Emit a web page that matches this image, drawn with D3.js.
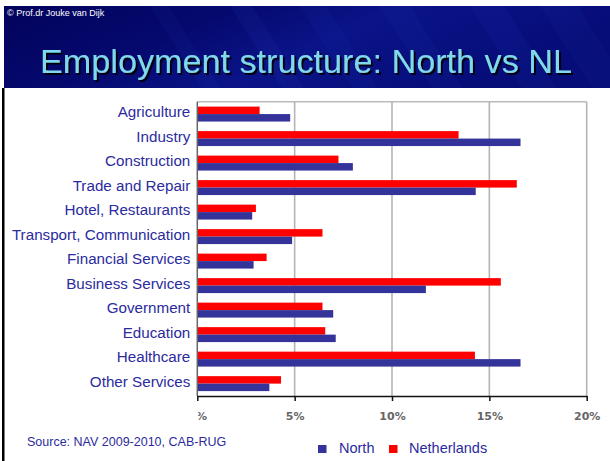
<!DOCTYPE html>
<html><head><meta charset="utf-8">
<script src="https://cdn.jsdelivr.net/npm/d3@7"></script>
<style>html,body{margin:0;padding:0;background:#fff;overflow:hidden}</style>
</head><body>
<script>
const categories = ["Agriculture","Industry","Construction","Trade and Repair","Hotel, Restaurants","Transport, Communication","Financial Services","Business Services","Government","Education","Healthcare","Other Services"];
const northValues = [4.77, 16.6, 7.99, 14.3, 2.82, 4.87, 2.89, 11.74, 6.98, 7.11, 16.6, 3.7];
const netherlandsValues = [3.2, 13.42, 7.25, 16.41, 3.01, 6.43, 3.56, 15.59, 6.43, 6.57, 14.26, 4.3];
const seriesNames = ["Netherlands","North"];
const seriesColors = {"Netherlands":"#ff0000","North":"#333399"};
const tickValues = [0,5,10,15,20];
const tickLabels = ["0%","5%","10%","15%","20%"];
const legendNames = ["North","Netherlands"];
const titleText = "Employment structure: North vs NL";
const copyrightText = "\u00a9 Prof.dr Jouke van Dijk";
const sourceText = "Source: NAV 2009-2010, CAB-RUG";

const W = 610, H = 461;
const svg = d3.select("body").append("svg").attr("width", W).attr("height", H);
const defs = svg.append("defs");

// header background
const g = defs.append("linearGradient").attr("id","hdr").attr("x1","0").attr("y1","0").attr("x2","1").attr("y2","0.3");
g.append("stop").attr("offset","0").attr("stop-color","#03035c");
g.append("stop").attr("offset","0.35").attr("stop-color","#05096e");
g.append("stop").attr("offset","0.6").attr("stop-color","#0a1488");
g.append("stop").attr("offset","1").attr("stop-color","#060c78");
svg.append("rect").attr("x",4).attr("y",6).attr("width",W-4).attr("height",82).attr("fill","url(#hdr)");
const streaks = [[150,0.05],[230,0.08],[300,0.06],[380,0.05],[470,0.07],[540,0.05]];
const hclip = defs.append("clipPath").attr("id","hclip");
hclip.append("rect").attr("x",4).attr("y",6).attr("width",W-4).attr("height",82);
const sg = svg.append("g").attr("clip-path","url(#hclip)");
streaks.forEach(([x,o],i)=>{
  sg.append("polygon").attr("points",`${x},6 ${x+18+i*4},6 ${x+70+i*4},88 ${x+52},88`).attr("fill","#3a5adf").attr("opacity",o);
});
svg.append("text").attr("x",7).attr("y",16).attr("fill","#ffffff").attr("font-family","Liberation Sans, Arial, sans-serif").attr("font-size",9).text(copyrightText);
// title with drop shadow
const f = defs.append("filter").attr("id","tshadow").attr("x","-5%").attr("y","-20%").attr("width","110%").attr("height","140%");
f.append("feDropShadow").attr("dx",2).attr("dy",2).attr("stdDeviation",0.4).attr("flood-color","#000010").attr("flood-opacity",1);
svg.append("text").attr("x",40).attr("y",73).attr("fill","#80d8ec").attr("filter","url(#tshadow)")
  .attr("font-family","Liberation Sans, Arial, sans-serif").attr("font-size",34)
  .attr("textLength",532).attr("lengthAdjust","spacingAndGlyphs").text(titleText);
// left black border
svg.append("rect").attr("x",2).attr("y",88).attr("width",2.5).attr("height",H-88).attr("fill","#000");

// chart
const x = d3.scaleLinear().domain([0,20]).range([197.3,586.7]);
const y = d3.scaleBand().domain(categories).range([101.7,396]).paddingInner(0.39).paddingOuter(0.2);
const ys = d3.scaleBand().domain(seriesNames).range([0,y.bandwidth()]);
const plot = svg.append("g");

// frame + gridlines
plot.append("line").attr("x1",x(0)).attr("x2",x(20)).attr("y1",101.7).attr("y2",101.7).attr("stroke","#bbbbbb").attr("stroke-width",1.5);
plot.selectAll(".grid").data(tickValues.slice(1)).join("line")
  .attr("x1",d=>x(d)).attr("x2",d=>x(d)).attr("y1",101.7).attr("y2",396)
  .attr("stroke","#b5b5b5").attr("stroke-width",1.6);

const data = categories.map((c,i)=>({cat:c, Netherlands:netherlandsValues[i], North:northValues[i]}));
const grp = plot.selectAll(".cat").data(data).join("g").attr("transform",d=>`translate(0,${y(d.cat)})`);
grp.selectAll("rect").data(d=>seriesNames.map(s=>({s, v:d[s]}))).join("rect")
  .attr("x",x(0)).attr("y",d=>ys(d.s)).attr("width",d=>x(d.v)-x(0)).attr("height",ys.bandwidth())
  .attr("fill",d=>seriesColors[d.s]);

// left axis line
plot.append("line").attr("x1",x(0)).attr("x2",x(0)).attr("y1",101.7).attr("y2",396).attr("stroke","#666").attr("stroke-width",1.5);

// category labels
const yAxis = d3.axisLeft(y).tickSize(0).tickPadding(7);
const ya = svg.append("g").attr("transform",`translate(${x(0)},0)`).call(yAxis);
ya.select(".domain").remove();
ya.selectAll("text").attr("fill","#2b2b9e").attr("font-family","Liberation Sans, Arial, sans-serif").attr("font-size",15.2).attr("dy","0.2em");

// bottom axis
const xAxis = d3.axisBottom(x).tickValues(tickValues).tickFormat((d,i)=>tickLabels[i]).tickSize(5).tickPadding(11).tickSizeOuter(0);
const xa = svg.append("g").attr("transform","translate(0,396)").call(xAxis);
xa.select(".domain").attr("stroke","#111").attr("stroke-width",1.6);
xa.selectAll(".tick line").attr("stroke","#111").attr("stroke-width",1.5);
xa.selectAll(".tick text").attr("fill","#666").attr("font-family","DejaVu Sans, Verdana, sans-serif").attr("font-weight","bold").attr("font-size",11);
const lc = defs.append("clipPath").attr("id","lblclip");
lc.append("rect").attr("x",0.5).attr("y",0).attr("width",40).attr("height",40);
xa.selectAll(".tick").filter(d=>d===0).select("text").attr("clip-path","url(#lblclip)");

// source
svg.append("text").attr("x",27).attr("y",446).attr("fill","#2b2b9e").attr("font-family","Liberation Sans, Arial, sans-serif").attr("font-size",12.5).text(sourceText);

// legend
const lg = svg.append("g");
const lpos = [{sx:318, tx:339},{sx:389, tx:409}];
legendNames.forEach((n,i)=>{
  lg.append("rect").attr("x",lpos[i].sx).attr("y",445).attr("width",8.5).attr("height",8).attr("fill",seriesColors[n]);
  lg.append("text").attr("x",lpos[i].tx).attr("y",452.5).attr("fill","#2b2b9e").attr("font-family","Liberation Sans, Arial, sans-serif").attr("font-size",14.5).text(n);
});
</script>
</body></html>
